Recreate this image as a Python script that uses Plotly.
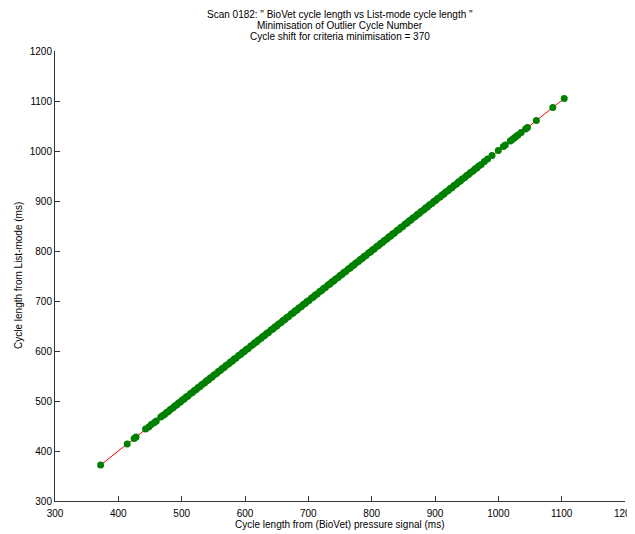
import plotly.graph_objects as go

title_lines = [
    'Scan 0182: " BioVet cycle length vs List-mode cycle length "',
    "Minimisation of Outlier Cycle Number",
    "Cycle shift for criteria minimisation = 370",
]
x_label = "Cycle length from (BioVet) pressure signal (ms)"
y_label = "Cycle length from List-mode (ms)"
tick_vals = [300, 400, 500, 600, 700, 800, 900, 1000, 1100, 1200]

biovet_ms = [
    372, 414, 425, 428, 443, 448, 452, 457, 460, 467,
    470, 473, 476, 479, 482, 486, 489, 492, 495, 498, 501, 504, 507, 510, 514,
    517, 520, 523, 526, 529, 532, 536, 539, 542, 545, 548, 551, 555, 558, 561,
    564, 567, 570, 574, 577, 580, 583, 586, 590, 593, 596, 599, 602, 605, 609,
    612, 615, 618, 621, 625, 628, 631, 634, 637, 641, 644, 647, 650, 653, 657,
    660, 663, 666, 669, 673, 676, 679, 682, 685, 689, 692, 695, 698, 701, 705,
    708, 711, 714, 718, 721, 724, 727, 731, 734, 737, 740, 743, 747, 750, 753,
    756, 759, 763, 766, 769, 772, 775, 779, 782, 785, 788, 791, 795, 798, 801,
    804, 808, 811, 814, 817, 820, 824, 827, 830, 833, 836, 840, 843, 846, 849,
    853, 856, 859, 862, 865, 869, 872, 875, 878, 882, 885, 888, 891, 895, 898,
    901, 904, 908, 911, 914, 917, 921, 924, 927, 930, 934, 937, 940, 943, 947,
    950, 953, 956, 960, 963, 966, 969, 973, 978, 983, 990, 1000, 1008, 1011,
    1019, 1022, 1025, 1028, 1031, 1036, 1043, 1046, 1060, 1086, 1104,
]
listmode_ms = [
    372, 414, 425, 428, 444, 448, 453, 457, 460, 468,
    471, 473, 477, 479, 483, 486, 490, 492, 496, 498, 502, 504, 508, 510, 515,
    517, 521, 523, 527, 529, 533, 536, 540, 542, 546, 548, 552, 555, 559, 561,
    565, 567, 571, 574, 578, 580, 584, 586, 591, 593, 597, 599, 603, 605, 610,
    612, 616, 618, 622, 625, 629, 631, 635, 637, 642, 644, 648, 650, 654, 657,
    661, 663, 667, 669, 674, 676, 680, 682, 686, 689, 693, 695, 699, 701, 706,
    708, 712, 714, 719, 721, 725, 727, 732, 734, 738, 740, 744, 747, 751, 753,
    757, 759, 764, 766, 770, 772, 776, 779, 783, 785, 789, 791, 796, 798, 802,
    804, 809, 811, 815, 817, 821, 824, 828, 830, 834, 836, 841, 843, 847, 849,
    854, 856, 860, 862, 866, 869, 873, 875, 879, 882, 886, 888, 892, 895, 899,
    901, 905, 908, 912, 914, 918, 921, 925, 927, 931, 934, 938, 940, 944, 947,
    951, 953, 957, 960, 964, 966, 970, 973, 979, 984, 991, 1001, 1009, 1012,
    1020, 1023, 1026, 1029, 1032, 1037, 1044, 1047, 1061, 1087, 1105,
]

font_family = "Liberation Sans, Arial, Helvetica, sans-serif"
label_font = dict(size=10, color="#000000", family=font_family)
title_font = dict(size=10, color="#000000", family=font_family)

fig = go.Figure()
fig.add_trace(go.Scatter(
    x=biovet_ms, y=listmode_ms, mode="lines+markers",
    line=dict(color="#ff0000", width=1),
    marker=dict(color="#008000", size=7, line=dict(width=0)),
    showlegend=False,
))

axis_common = dict(
    tickvals=tick_vals, ticks="inside", ticklen=5, tickwidth=1,
    tickcolor="#333333", showline=True, linecolor="#333333", linewidth=1,
    showgrid=False, zeroline=False, mirror=False,
    tickfont=label_font, range=[300, 1200], automargin=False,
)
fig.update_xaxes(**axis_common, ticklabeloverflow="allow", ticklabelstandoff=3)
fig.update_yaxes(**axis_common)

# axis titles as annotations for precise placement
fig.add_annotation(text=x_label, xref="paper", yref="paper", x=0.5, y=0,
                   yshift=-23, showarrow=False, xanchor="center",
                   yanchor="middle", font=label_font)
fig.add_annotation(text=y_label, xref="paper", yref="paper", x=0, y=0.5,
                   xshift=-37, showarrow=False, xanchor="center",
                   yanchor="middle", textangle=-90, font=label_font)

for i, line in enumerate(title_lines):
    fig.add_annotation(
        text=line, xref="paper", yref="paper", x=0.5, y=1,
        yshift=37 - 11 * i, showarrow=False, xanchor="center",
        yanchor="middle", font=title_font,
    )

fig.update_layout(
    width=627, height=526,
    margin=dict(l=47, r=10, t=43, b=33),
    paper_bgcolor="white", plot_bgcolor="white",
    font=dict(family=font_family, size=10, color="#000000"),
)

fig.write_html("out.html")
